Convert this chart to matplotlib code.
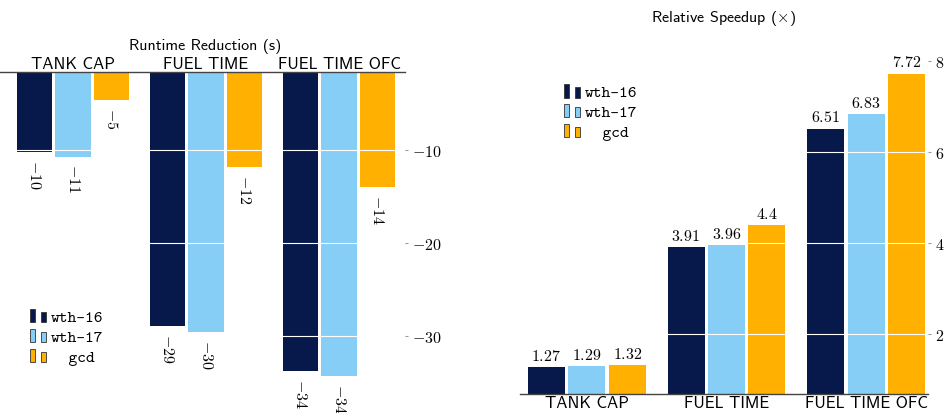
import numpy as np
import matplotlib
matplotlib.use('Agg')
import matplotlib.pyplot as plt
from matplotlib.patches import Rectangle
from matplotlib.ticker import FuncFormatter

plt.rcParams['mathtext.fontset'] = 'cm'
plt.rcParams['font.family'] = ['cmss10', 'DejaVu Sans']
plt.rcParams['axes.unicode_minus'] = False

categories = ['TANK CAP', 'FUEL TIME', 'FUEL TIME OFC']
series = ['wth-16', 'wth-17', 'gcd']
legend_labels = ['wth-16', 'wth-17', '  gcd']
colors = ['#07184B', '#87CEF6', '#FFB000']

# runtime reduction in seconds (labels are rounded)
reduction = {
    'wth-16': [-10.2, -28.9, -33.8],
    'wth-17': [-10.7, -29.6, -34.3],
    'gcd': [-4.6, -11.8, -14.0],
}
# relative speedup
speedup = {
    'wth-16': [1.27, 3.91, 6.51],
    'wth-17': [1.29, 3.96, 6.83],
    'gcd': [1.32, 4.4, 7.72],
}


class TwoBarHandler:
    def legend_artist(self, legend, orig_handle, fontsize, handlebox):
        x0, y0 = handlebox.xdescent, handlebox.ydescent
        w, h = handlebox.width, handlebox.height
        fc = orig_handle.get_facecolor()
        r1 = Rectangle([x0, y0 - h * 0.1], w * 0.3, h * 1.15, fc=fc, ec='#333333', lw=0.6,
                       transform=handlebox.get_transform())
        r2 = Rectangle([x0 + w * 0.66, y0 - h * 0.1], w * 0.3, h * 0.9, fc=fc, ec='#333333', lw=0.6,
                       transform=handlebox.get_transform())
        handlebox.add_artist(r1)
        handlebox.add_artist(r2)
        return r1


leg_font = {'family': 'cmtt10', 'size': 12}

fig = plt.figure(figsize=(9.52, 4.14), dpi=100)

x = np.arange(len(categories))
width = 0.265
offs = [-0.29, 0.0, 0.29]

############ Runtime reduction
ax1 = fig.add_axes([0.0, 0.0, 405 / 952, 1 - 73 / 414])
handles = []
for i, s in enumerate(series):
    b = ax1.bar(x + offs[i], reduction[s], width, color=colors[i], zorder=2)
    handles.append(b[0])
    for xi, v in zip(x + offs[i], reduction[s]):
        ax1.annotate(r'$%d$' % round(v), (xi, v), xytext=(0, -5), textcoords='offset points',
                     rotation=270, ha='center', va='top', fontsize=11.5)
ax1.set_xlim(-0.549, 2.496)
ax1.set_ylim(-38.3, -1.6)
for yv in [-10, -20, -30]:
    ax1.axhline(yv, color='white', lw=0.8, zorder=2.5)
for sp in ['left', 'right', 'bottom']:
    ax1.spines[sp].set_visible(False)
ax1.spines['top'].set_color('#444444')
ax1.spines['top'].set_linewidth(1.0)
ax1.xaxis.tick_top()
ax1.set_xticks(x)
ax1.set_xticklabels(categories, fontsize=12)
ax1.tick_params(axis='x', length=0, pad=1)
ax1.yaxis.tick_right()
ax1.set_yticks([-10, -20, -30])
ax1.yaxis.set_major_formatter(FuncFormatter(lambda v, p: r'$%d$' % v))
ax1.tick_params(axis='y', length=2, color='#999999', labelsize=11.5, pad=3)
fig.text(205 / 952, 1 - 47 / 414, 'Runtime Reduction (s)', ha='center', va='center', fontsize=11.5)
fig.legend(handles, legend_labels, handler_map={h: TwoBarHandler() for h in handles},
           loc='center left', bbox_to_anchor=(0.016, 0.183), frameon=False, prop=leg_font,
           handlelength=1.0, handletextpad=0.25, labelspacing=0.25)

############ Relative speedup
ax2 = fig.add_axes([520 / 952, 1 - 395 / 414, 408 / 952, 355 / 414])
handles2 = []
for i, s in enumerate(series):
    b = ax2.bar(x + offs[i], speedup[s], width, color=colors[i], zorder=2)
    handles2.append(b[0])
    for xi, v in zip(x + offs[i], speedup[s]):
        ax2.annotate(r'$%s$' % ('%g' % v), (xi, v), xytext=(0, 3), textcoords='offset points',
                     ha='center', va='bottom', fontsize=11.5)
ax2.set_xlim(-0.48, 2.444)
ax2.set_ylim(0.68, 8.48)
for yv in [2, 4, 6]:
    ax2.axhline(yv, color='white', lw=0.8, zorder=2.5)
for sp in ['left', 'right', 'top']:
    ax2.spines[sp].set_visible(False)
ax2.spines['bottom'].set_color('#444444')
ax2.spines['bottom'].set_linewidth(1.0)
ax2.set_xticks(x)
ax2.set_xticklabels(categories, fontsize=12)
ax2.tick_params(axis='x', length=0, pad=1)
ax2.yaxis.tick_right()
ax2.set_yticks([2, 4, 6, 8])
ax2.yaxis.set_major_formatter(FuncFormatter(lambda v, p: r'$%d$' % v))
ax2.tick_params(axis='y', length=2, color='#999999', labelsize=11.5, pad=3)
fig.text(724 / 952, 1 - 18 / 414, r'Relative Speedup ($\times$)', ha='center', va='center', fontsize=11.5)
fig.legend(handles2, legend_labels, handler_map={h: TwoBarHandler() for h in handles2},
           loc='center left', bbox_to_anchor=(0.577, 0.726), frameon=False, prop=leg_font,
           handlelength=1.0, handletextpad=0.25, labelspacing=0.25)

plt.savefig('out.png', dpi=100)
